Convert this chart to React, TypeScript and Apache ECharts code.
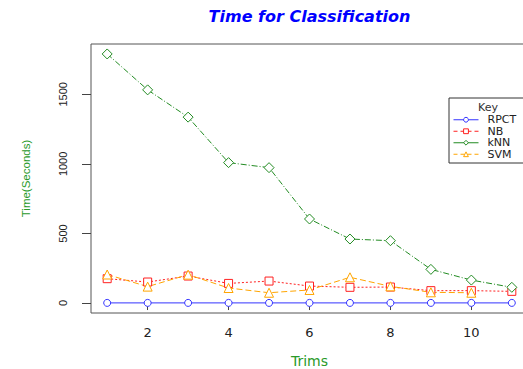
import React, { useEffect, useRef } from "react";
import * as echarts from "echarts";

const trims = [1, 2, 3, 4, 5, 6, 7, 8, 9, 10, 11];
const rpct = [1, 1, 1, 1, 1, 1, 1, 1, 1, 1, 1];
const nb = [175, 151, 194, 141, 158, 122, 113, 115, 89, 89, 84];
const knn = [1790, 1532, 1336, 1009, 973, 604, 460, 448, 242, 165, 113];
const svm = [205, 118, 204, 108, 74, 94, 185, 120, 77, 74];

const xTicks = [2, 4, 6, 8, 10];
const yTicks = [0, 500, 1000, 1500];

const pairs = (vals: number[]) => vals.map((v, i) => [trims[i], v]);

export default function App() {
  const ref = useRef<HTMLDivElement>(null);
  useEffect(() => {
    if (!ref.current) return;
    const chart = echarts.init(ref.current, null, { renderer: "svg" });
    const green = "#2a9a2a";
    const mk = (name: string, vals: number[], symbol: string, size: number, color: string, type: any) => ({
      name,
      type: "line",
      data: pairs(vals),
      symbol,
      symbolSize: size,
      color,
      lineStyle: { width: 1, type, color },
      itemStyle: { color: "#ffffff", borderColor: color, borderWidth: 1 },
    });
    chart.setOption({
      animation: false,
      backgroundColor: "#ffffff",
      grid: {
        left: 91,
        top: 44,
        width: 437,
        height: 269,
        outerBoundsMode: "none",
        containLabel: false,
        show: true,
        borderColor: "#555",
        borderWidth: 1,
        backgroundColor: "transparent",
      },
      graphic: [
        {
          type: "text",
          x: 309.5,
          y: 16.5,
          style: {
            text: "Time for Classification",
            fill: "#0000ff",
            font: "italic bold 16px 'DejaVu Sans'",
            textAlign: "center",
            textVerticalAlign: "middle",
          },
        },
        {
          type: "text",
          x: 488,
          y: 107,
          z: 100,
          style: {
            text: "Key",
            fill: "#333",
            font: "11px 'DejaVu Sans'",
            textAlign: "center",
            textVerticalAlign: "middle",
          },
        },
      ],
      legend: {
        orient: "vertical",
        left: 449,
        top: 98,
        padding: [16, 22, 3, 4],
        borderColor: "#333",
        borderWidth: 1,
        itemWidth: 25,
        itemHeight: 6,
        itemGap: 0,
        lineStyle: { width: 1 },
        itemStyle: { borderWidth: 1 },
        textStyle: {
          fontFamily: "DejaVu Sans",
          fontSize: 11,
          lineHeight: 11.5,
          color: "#222",
          padding: [0, 0, 0, 4],
        },
        data: [
          { name: "RPCT", lineStyle: { type: "solid", width: 1 } },
          { name: "NB", lineStyle: { type: [4, 3], width: 1 } },
          { name: "kNN", lineStyle: { type: "solid", width: 1 } },
          { name: "SVM", lineStyle: { type: [4, 3], width: 1 } },
        ],
      },
      xAxis: {
        type: "value",
        min: 0.6,
        max: 11.4,
        name: "Trims",
        nameLocation: "middle",
        nameGap: 41,
        nameTextStyle: { color: green, fontFamily: "DejaVu Sans", fontSize: 14 },
        axisLine: { show: false },
        splitLine: { show: false },
        axisTick: {
          show: true,
          length: 7,
          customValues: xTicks,
          lineStyle: { color: "#444" },
        },
        axisLabel: {
          customValues: xTicks,
          margin: 13,
          color: "#222",
          fontFamily: "DejaVu Sans",
          fontSize: 13,
        },
      },
      yAxis: {
        type: "value",
        min: -71.6,
        max: 1861.6,
        name: "Time(Seconds)",
        nameLocation: "middle",
        nameGap: 59,
        nameRotate: 90,
        nameTextStyle: { color: green, fontFamily: "Liberation Sans", fontSize: 11.5 },
        axisLine: { show: false },
        splitLine: { show: false },
        axisTick: {
          show: true,
          length: 9,
          customValues: yTicks,
          lineStyle: { color: "#444" },
        },
        axisLabel: {
          customValues: yTicks,
          formatter: (v: number) => String(v),
          rotate: 90,
          margin: 23,
          color: "#222",
          fontFamily: "Liberation Sans",
          fontSize: 11,
        },
      },
      series: [
        mk("RPCT", rpct, "circle", 7, "#3333ff", "solid"),
        mk("NB", nb, "rect", 8, "#ff2020", [2, 2]),
        mk("kNN", knn, "diamond", 10, "#228b22", [6, 2, 1, 2]),
        mk("SVM", svm, "triangle", 9, "#ffa500", [6, 3]),
      ],
    });
    return () => chart.dispose();
  }, []);
  return (
    <div
      ref={ref}
      style={{ position: "absolute", left: 0, top: 0, width: 523, height: 369 }}
    />
  );
}
